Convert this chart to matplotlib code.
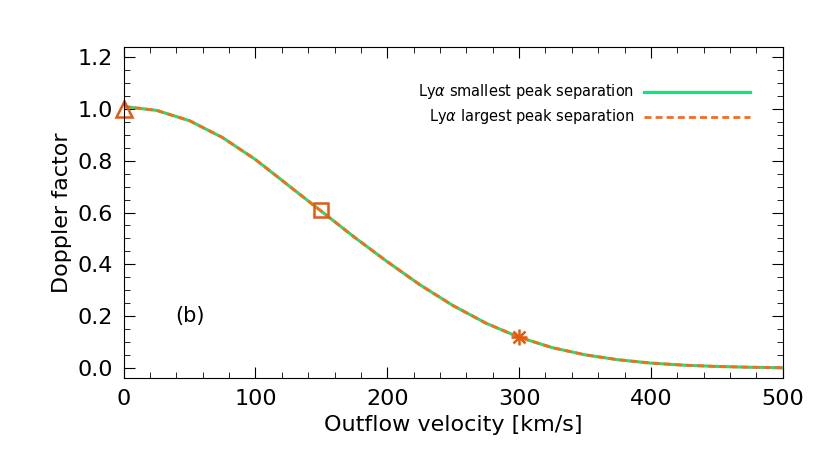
import numpy as np
import matplotlib.pyplot as plt
from matplotlib.ticker import MultipleLocator

velocity = [0, 25, 50, 75, 100, 125, 150, 175, 200, 225, 250, 275, 300,
            325, 350, 375, 400, 425, 450, 475, 500]
doppler_small = [1.01, 0.995, 0.955, 0.89, 0.805, 0.705, 0.605, 0.505, 0.41, 0.32,
                 0.24, 0.172, 0.118, 0.078, 0.050, 0.031, 0.018, 0.010, 0.005, 0.002, 0.0]
doppler_large = doppler_small
marker_v = [0, 150, 300]
marker_d = [1.0, 0.61, 0.118]

plt.rcParams['font.family'] = ['DejaVu Sans']

fig = plt.figure(figsize=(8.3, 4.75), dpi=100)
ax = fig.add_axes([0.149, 0.204, 0.794, 0.697])

green = '#22dd77'
orange = '#ff6a10'
ax.plot(velocity, doppler_small, color=green, lw=2.2)
ax.plot(velocity, doppler_large, color=orange, lw=2, ls=(0, (2.5, 1.5)))

mk = '#e05a10'
ax.plot(marker_v[0], marker_d[0], marker='^', ms=11, mfc='none', mec=mk, mew=1.8, clip_on=False)
ax.plot(marker_v[1], marker_d[1], marker='s', ms=10, mfc='none', mec=mk, mew=1.8)
ax.plot(marker_v[2], marker_d[2], marker='x', ms=9, color=mk, mew=1.8)
ax.plot(marker_v[2], marker_d[2], marker='+', ms=11, color=mk, mew=1.8)

ax.set_xlim(0, 500)
ax.set_ylim(-0.04, 1.24)
ax.set_xticks([0, 100, 200, 300, 400, 500])
ax.set_yticks([0.0, 0.2, 0.4, 0.6, 0.8, 1.0, 1.2])
ax.set_yticklabels(['0.0', '0.2', '0.4', '0.6', '0.8', '1.0', '1.2'])
ax.xaxis.set_minor_locator(MultipleLocator(20))
ax.yaxis.set_minor_locator(MultipleLocator(0.05))
ax.tick_params(which='both', direction='in', top=True, right=True, labelsize=16, pad=8)
ax.tick_params(which='major', length=8)
ax.tick_params(which='minor', length=4)
ax.set_xlabel('Outflow velocity [km/s]', fontsize=16)
ax.set_ylabel('Doppler factor', fontsize=16)

ax.text(50, 0.2, '(b)', fontsize=15, ha='center', va='center')
ax.text(0.775, 0.865, r'Ly$\alpha$ smallest peak separation', transform=ax.transAxes,
        ha='right', va='center', fontsize=10.5)
ax.text(0.775, 0.79, r'Ly$\alpha$ largest peak separation', transform=ax.transAxes,
        ha='right', va='center', fontsize=10.5)
ax.plot([0.79, 0.95], [0.865, 0.865], color=green, lw=2.2, transform=ax.transAxes)
ax.plot([0.79, 0.95], [0.79, 0.79], color=orange, lw=2, ls=(0, (2.5, 1.5)), transform=ax.transAxes)

fig.savefig('out.png', dpi=100)
